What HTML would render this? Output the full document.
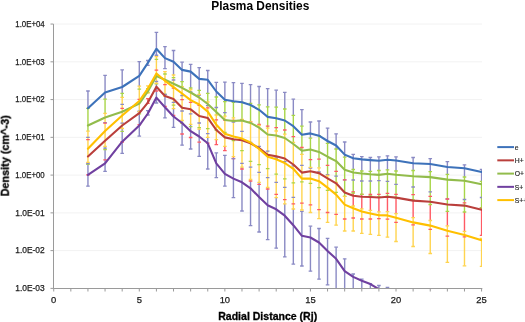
<!DOCTYPE html>
<html><head><meta charset="utf-8"><style>html,body{margin:0;padding:0;background:#fff;}svg{display:block;} text{will-change:transform;}</style></head>
<body><svg width="525" height="322" viewBox="0 0 525 322">
<defs><clipPath id="pc"><rect x="53.3" y="23" width="428.7" height="265.4"/></clipPath></defs>
<rect width="525" height="322" fill="#fff"/>
<line x1="54" y1="250.62" x2="482" y2="250.62" stroke="#F2F2F2" stroke-width="1"/>
<line x1="54" y1="212.86" x2="482" y2="212.86" stroke="#F2F2F2" stroke-width="1"/>
<line x1="54" y1="175.10" x2="482" y2="175.10" stroke="#F2F2F2" stroke-width="1"/>
<line x1="54" y1="137.34" x2="482" y2="137.34" stroke="#F2F2F2" stroke-width="1"/>
<line x1="54" y1="99.58" x2="482" y2="99.58" stroke="#F2F2F2" stroke-width="1"/>
<line x1="54" y1="61.82" x2="482" y2="61.82" stroke="#F2F2F2" stroke-width="1"/>
<line x1="54" y1="24.06" x2="482" y2="24.06" stroke="#F2F2F2" stroke-width="1"/>
<g clip-path="url(#pc)">
<line x1="87.95" y1="91.00" x2="87.95" y2="108.30" stroke="#8A8AC4" stroke-width="1.4"/>
<line x1="87.95" y1="108.30" x2="87.95" y2="131.20" stroke="#A8D548" stroke-width="1.4"/>
<line x1="87.95" y1="131.20" x2="87.95" y2="162.40" stroke="#FFD44F" stroke-width="1.4"/>
<line x1="87.95" y1="162.40" x2="87.95" y2="163.50" stroke="#A8D548" stroke-width="1.4"/>
<line x1="87.95" y1="163.50" x2="87.95" y2="186.20" stroke="#8A8AC4" stroke-width="1.4"/>
<line x1="105.06" y1="75.40" x2="105.06" y2="99.20" stroke="#8A8AC4" stroke-width="1.4"/>
<line x1="105.06" y1="99.20" x2="105.06" y2="113.30" stroke="#A8D548" stroke-width="1.4"/>
<line x1="105.06" y1="113.30" x2="105.06" y2="146.40" stroke="#FFD44F" stroke-width="1.4"/>
<line x1="105.06" y1="146.40" x2="105.06" y2="148.10" stroke="#A8D548" stroke-width="1.4"/>
<line x1="105.06" y1="148.10" x2="105.06" y2="171.30" stroke="#8A8AC4" stroke-width="1.4"/>
<line x1="122.18" y1="69.90" x2="122.18" y2="93.30" stroke="#8A8AC4" stroke-width="1.4"/>
<line x1="122.18" y1="93.30" x2="122.18" y2="97.30" stroke="#A8D548" stroke-width="1.4"/>
<line x1="122.18" y1="97.30" x2="122.18" y2="128.50" stroke="#FFD44F" stroke-width="1.4"/>
<line x1="122.18" y1="128.50" x2="122.18" y2="153.40" stroke="#8A8AC4" stroke-width="1.4"/>
<line x1="139.29" y1="61.60" x2="139.29" y2="86.20" stroke="#8A8AC4" stroke-width="1.4"/>
<line x1="139.29" y1="86.20" x2="139.29" y2="111.60" stroke="#FFD44F" stroke-width="1.4"/>
<line x1="139.29" y1="111.60" x2="139.29" y2="111.70" stroke="#A8D548" stroke-width="1.4"/>
<line x1="139.29" y1="111.70" x2="139.29" y2="136.10" stroke="#8A8AC4" stroke-width="1.4"/>
<line x1="147.85" y1="60.50" x2="147.85" y2="65.30" stroke="#8A8AC4" stroke-width="1.4"/>
<line x1="147.85" y1="85.90" x2="147.85" y2="93.00" stroke="#FFD44F" stroke-width="1.4"/>
<line x1="147.85" y1="98.60" x2="147.85" y2="103.30" stroke="#FF5A64" stroke-width="1.4"/>
<line x1="147.85" y1="110.70" x2="147.85" y2="115.00" stroke="#8A8AC4" stroke-width="1.4"/>
<line x1="156.41" y1="32.40" x2="156.41" y2="55.25" stroke="#8A8AC4" stroke-width="1.4"/>
<line x1="156.41" y1="56.60" x2="156.41" y2="83.47" stroke="#FFD44F" stroke-width="1.4"/>
<line x1="156.41" y1="83.47" x2="156.41" y2="103.00" stroke="#8A8AC4" stroke-width="1.4"/>
<line x1="164.97" y1="46.70" x2="164.97" y2="68.60" stroke="#8A8AC4" stroke-width="1.4"/>
<line x1="164.97" y1="71.60" x2="164.97" y2="96.45" stroke="#FFD44F" stroke-width="1.4"/>
<line x1="164.97" y1="96.45" x2="164.97" y2="117.90" stroke="#8A8AC4" stroke-width="1.4"/>
<line x1="173.52" y1="50.50" x2="173.52" y2="75.00" stroke="#8A8AC4" stroke-width="1.4"/>
<line x1="173.52" y1="75.00" x2="173.52" y2="108.53" stroke="#FFD44F" stroke-width="1.4"/>
<line x1="173.52" y1="108.53" x2="173.52" y2="127.30" stroke="#8A8AC4" stroke-width="1.4"/>
<line x1="182.08" y1="62.20" x2="182.08" y2="81.70" stroke="#8A8AC4" stroke-width="1.4"/>
<line x1="182.08" y1="81.70" x2="182.08" y2="86.60" stroke="#A8D548" stroke-width="1.4"/>
<line x1="182.08" y1="86.60" x2="182.08" y2="120.50" stroke="#FFD44F" stroke-width="1.4"/>
<line x1="182.08" y1="120.50" x2="182.08" y2="145.20" stroke="#8A8AC4" stroke-width="1.4"/>
<line x1="190.64" y1="64.40" x2="190.64" y2="88.00" stroke="#8A8AC4" stroke-width="1.4"/>
<line x1="190.64" y1="88.00" x2="190.64" y2="89.50" stroke="#A8D548" stroke-width="1.4"/>
<line x1="190.64" y1="89.50" x2="190.64" y2="124.30" stroke="#FFD44F" stroke-width="1.4"/>
<line x1="190.64" y1="124.30" x2="190.64" y2="149.00" stroke="#8A8AC4" stroke-width="1.4"/>
<line x1="199.20" y1="67.60" x2="199.20" y2="90.40" stroke="#8A8AC4" stroke-width="1.4"/>
<line x1="199.20" y1="90.40" x2="199.20" y2="94.30" stroke="#A8D548" stroke-width="1.4"/>
<line x1="199.20" y1="94.30" x2="199.20" y2="129.20" stroke="#FFD44F" stroke-width="1.4"/>
<line x1="199.20" y1="129.20" x2="199.20" y2="156.30" stroke="#8A8AC4" stroke-width="1.4"/>
<line x1="207.75" y1="70.50" x2="207.75" y2="93.40" stroke="#8A8AC4" stroke-width="1.4"/>
<line x1="207.75" y1="93.40" x2="207.75" y2="102.00" stroke="#A8D548" stroke-width="1.4"/>
<line x1="207.75" y1="102.00" x2="207.75" y2="137.30" stroke="#FFD44F" stroke-width="1.4"/>
<line x1="207.75" y1="137.30" x2="207.75" y2="169.00" stroke="#8A8AC4" stroke-width="1.4"/>
<line x1="216.31" y1="82.40" x2="216.31" y2="97.00" stroke="#8A8AC4" stroke-width="1.4"/>
<line x1="216.31" y1="97.00" x2="216.31" y2="115.00" stroke="#A8D548" stroke-width="1.4"/>
<line x1="216.31" y1="115.00" x2="216.31" y2="139.70" stroke="#FFD44F" stroke-width="1.4"/>
<line x1="216.31" y1="139.70" x2="216.31" y2="144.60" stroke="#FF5A64" stroke-width="1.4"/>
<line x1="216.31" y1="152.90" x2="216.31" y2="177.60" stroke="#8A8AC4" stroke-width="1.4"/>
<line x1="224.87" y1="82.10" x2="224.87" y2="101.70" stroke="#8A8AC4" stroke-width="1.4"/>
<line x1="224.87" y1="101.70" x2="224.87" y2="116.10" stroke="#A8D548" stroke-width="1.4"/>
<line x1="224.87" y1="116.10" x2="224.87" y2="146.30" stroke="#FFD44F" stroke-width="1.4"/>
<line x1="224.87" y1="146.30" x2="224.87" y2="150.60" stroke="#FF5A64" stroke-width="1.4"/>
<line x1="224.87" y1="155.30" x2="224.87" y2="186.10" stroke="#8A8AC4" stroke-width="1.4"/>
<line x1="233.43" y1="82.70" x2="233.43" y2="102.40" stroke="#8A8AC4" stroke-width="1.4"/>
<line x1="233.43" y1="102.40" x2="233.43" y2="117.80" stroke="#A8D548" stroke-width="1.4"/>
<line x1="233.43" y1="117.80" x2="233.43" y2="156.70" stroke="#FFD44F" stroke-width="1.4"/>
<line x1="233.43" y1="156.70" x2="233.43" y2="158.60" stroke="#FF5A64" stroke-width="1.4"/>
<line x1="233.43" y1="158.60" x2="233.43" y2="197.70" stroke="#8A8AC4" stroke-width="1.4"/>
<line x1="241.98" y1="83.30" x2="241.98" y2="102.40" stroke="#8A8AC4" stroke-width="1.4"/>
<line x1="241.98" y1="102.40" x2="241.98" y2="119.50" stroke="#A8D548" stroke-width="1.4"/>
<line x1="241.98" y1="119.50" x2="241.98" y2="167.10" stroke="#FFD44F" stroke-width="1.4"/>
<line x1="241.98" y1="167.10" x2="241.98" y2="211.00" stroke="#8A8AC4" stroke-width="1.4"/>
<line x1="250.54" y1="84.60" x2="250.54" y2="103.40" stroke="#8A8AC4" stroke-width="1.4"/>
<line x1="250.54" y1="103.40" x2="250.54" y2="121.80" stroke="#A8D548" stroke-width="1.4"/>
<line x1="250.54" y1="121.80" x2="250.54" y2="179.50" stroke="#FFD44F" stroke-width="1.4"/>
<line x1="250.54" y1="179.50" x2="250.54" y2="225.70" stroke="#8A8AC4" stroke-width="1.4"/>
<line x1="259.10" y1="86.50" x2="259.10" y2="104.80" stroke="#8A8AC4" stroke-width="1.4"/>
<line x1="259.10" y1="104.80" x2="259.10" y2="125.50" stroke="#A8D548" stroke-width="1.4"/>
<line x1="259.10" y1="125.50" x2="259.10" y2="182.40" stroke="#FFD44F" stroke-width="1.4"/>
<line x1="259.10" y1="182.40" x2="259.10" y2="232.00" stroke="#8A8AC4" stroke-width="1.4"/>
<line x1="267.66" y1="88.60" x2="267.66" y2="106.80" stroke="#8A8AC4" stroke-width="1.4"/>
<line x1="267.66" y1="106.80" x2="267.66" y2="128.10" stroke="#A8D548" stroke-width="1.4"/>
<line x1="267.66" y1="128.10" x2="267.66" y2="187.50" stroke="#FFD44F" stroke-width="1.4"/>
<line x1="267.66" y1="187.50" x2="267.66" y2="239.60" stroke="#8A8AC4" stroke-width="1.4"/>
<line x1="276.21" y1="90.20" x2="276.21" y2="107.10" stroke="#8A8AC4" stroke-width="1.4"/>
<line x1="276.21" y1="107.10" x2="276.21" y2="131.00" stroke="#A8D548" stroke-width="1.4"/>
<line x1="276.21" y1="131.00" x2="276.21" y2="197.70" stroke="#FFD44F" stroke-width="1.4"/>
<line x1="276.21" y1="197.70" x2="276.21" y2="248.20" stroke="#8A8AC4" stroke-width="1.4"/>
<line x1="284.77" y1="92.30" x2="284.77" y2="109.00" stroke="#8A8AC4" stroke-width="1.4"/>
<line x1="284.77" y1="109.00" x2="284.77" y2="134.20" stroke="#A8D548" stroke-width="1.4"/>
<line x1="284.77" y1="134.20" x2="284.77" y2="203.80" stroke="#FFD44F" stroke-width="1.4"/>
<line x1="284.77" y1="203.80" x2="284.77" y2="256.90" stroke="#8A8AC4" stroke-width="1.4"/>
<line x1="293.33" y1="99.20" x2="293.33" y2="115.30" stroke="#8A8AC4" stroke-width="1.4"/>
<line x1="293.33" y1="115.30" x2="293.33" y2="142.40" stroke="#A8D548" stroke-width="1.4"/>
<line x1="293.33" y1="142.40" x2="293.33" y2="209.00" stroke="#FFD44F" stroke-width="1.4"/>
<line x1="293.33" y1="209.00" x2="293.33" y2="264.10" stroke="#8A8AC4" stroke-width="1.4"/>
<line x1="301.89" y1="109.60" x2="301.89" y2="126.20" stroke="#8A8AC4" stroke-width="1.4"/>
<line x1="301.89" y1="126.20" x2="301.89" y2="154.30" stroke="#A8D548" stroke-width="1.4"/>
<line x1="301.89" y1="154.30" x2="301.89" y2="210.00" stroke="#FFD44F" stroke-width="1.4"/>
<line x1="301.89" y1="211.30" x2="301.89" y2="266.00" stroke="#8A8AC4" stroke-width="1.4"/>
<line x1="310.44" y1="122.00" x2="310.44" y2="138.20" stroke="#8A8AC4" stroke-width="1.4"/>
<line x1="310.44" y1="138.20" x2="310.44" y2="167.30" stroke="#A8D548" stroke-width="1.4"/>
<line x1="310.44" y1="167.30" x2="310.44" y2="212.50" stroke="#FFD44F" stroke-width="1.4"/>
<line x1="310.44" y1="226.20" x2="310.44" y2="271.20" stroke="#8A8AC4" stroke-width="1.4"/>
<line x1="319.00" y1="121.00" x2="319.00" y2="135.70" stroke="#8A8AC4" stroke-width="1.4"/>
<line x1="319.00" y1="135.70" x2="319.00" y2="167.80" stroke="#A8D548" stroke-width="1.4"/>
<line x1="319.00" y1="167.80" x2="319.00" y2="218.60" stroke="#FFD44F" stroke-width="1.4"/>
<line x1="319.00" y1="228.50" x2="319.00" y2="279.20" stroke="#8A8AC4" stroke-width="1.4"/>
<line x1="327.56" y1="128.10" x2="327.56" y2="143.30" stroke="#8A8AC4" stroke-width="1.4"/>
<line x1="327.56" y1="143.30" x2="327.56" y2="175.50" stroke="#A8D548" stroke-width="1.4"/>
<line x1="327.56" y1="175.50" x2="327.56" y2="222.40" stroke="#FFD44F" stroke-width="1.4"/>
<line x1="327.56" y1="238.30" x2="327.56" y2="284.90" stroke="#8A8AC4" stroke-width="1.4"/>
<line x1="336.12" y1="133.80" x2="336.12" y2="149.00" stroke="#8A8AC4" stroke-width="1.4"/>
<line x1="336.12" y1="149.00" x2="336.12" y2="182.30" stroke="#A8D548" stroke-width="1.4"/>
<line x1="336.12" y1="182.30" x2="336.12" y2="225.20" stroke="#FFD44F" stroke-width="1.4"/>
<line x1="336.12" y1="247.20" x2="336.12" y2="300.00" stroke="#8A8AC4" stroke-width="1.4"/>
<line x1="344.67" y1="142.00" x2="344.67" y2="157.20" stroke="#8A8AC4" stroke-width="1.4"/>
<line x1="344.67" y1="157.20" x2="344.67" y2="196.30" stroke="#A8D548" stroke-width="1.4"/>
<line x1="344.67" y1="196.30" x2="344.67" y2="231.00" stroke="#FFD44F" stroke-width="1.4"/>
<line x1="344.67" y1="258.80" x2="344.67" y2="300.00" stroke="#8A8AC4" stroke-width="1.4"/>
<line x1="353.23" y1="154.30" x2="353.23" y2="169.50" stroke="#8A8AC4" stroke-width="1.4"/>
<line x1="353.23" y1="169.50" x2="353.23" y2="193.00" stroke="#A8D548" stroke-width="1.4"/>
<line x1="353.23" y1="193.00" x2="353.23" y2="206.00" stroke="#FF5A64" stroke-width="1.4"/>
<line x1="353.23" y1="206.00" x2="353.23" y2="231.00" stroke="#FFD44F" stroke-width="1.4"/>
<line x1="353.23" y1="274.00" x2="353.23" y2="300.00" stroke="#8A8AC4" stroke-width="1.4"/>
<line x1="361.79" y1="156.70" x2="361.79" y2="171.00" stroke="#8A8AC4" stroke-width="1.4"/>
<line x1="361.79" y1="171.00" x2="361.79" y2="194.40" stroke="#A8D548" stroke-width="1.4"/>
<line x1="361.79" y1="194.40" x2="361.79" y2="208.89" stroke="#FF5A64" stroke-width="1.4"/>
<line x1="361.79" y1="208.89" x2="361.79" y2="233.40" stroke="#FFD44F" stroke-width="1.4"/>
<line x1="361.79" y1="279.20" x2="361.79" y2="300.00" stroke="#8A8AC4" stroke-width="1.4"/>
<line x1="370.35" y1="157.50" x2="370.35" y2="171.40" stroke="#8A8AC4" stroke-width="1.4"/>
<line x1="370.35" y1="171.40" x2="370.35" y2="195.78" stroke="#A8D548" stroke-width="1.4"/>
<line x1="370.35" y1="195.78" x2="370.35" y2="210.47" stroke="#FF5A64" stroke-width="1.4"/>
<line x1="370.35" y1="210.47" x2="370.35" y2="234.40" stroke="#FFD44F" stroke-width="1.4"/>
<line x1="370.35" y1="283.60" x2="370.35" y2="300.00" stroke="#8A8AC4" stroke-width="1.4"/>
<line x1="378.90" y1="156.80" x2="378.90" y2="170.50" stroke="#8A8AC4" stroke-width="1.4"/>
<line x1="378.90" y1="170.50" x2="378.90" y2="196.96" stroke="#A8D548" stroke-width="1.4"/>
<line x1="378.90" y1="196.96" x2="378.90" y2="211.86" stroke="#FF5A64" stroke-width="1.4"/>
<line x1="378.90" y1="211.86" x2="378.90" y2="235.30" stroke="#FFD44F" stroke-width="1.4"/>
<line x1="378.90" y1="285.50" x2="378.90" y2="300.00" stroke="#8A8AC4" stroke-width="1.4"/>
<line x1="387.46" y1="155.80" x2="387.46" y2="169.90" stroke="#8A8AC4" stroke-width="1.4"/>
<line x1="387.46" y1="169.90" x2="387.46" y2="196.34" stroke="#A8D548" stroke-width="1.4"/>
<line x1="387.46" y1="196.34" x2="387.46" y2="211.54" stroke="#FF5A64" stroke-width="1.4"/>
<line x1="387.46" y1="211.54" x2="387.46" y2="237.20" stroke="#FFD44F" stroke-width="1.4"/>
<line x1="387.46" y1="287.40" x2="387.46" y2="300.00" stroke="#8A8AC4" stroke-width="1.4"/>
<line x1="396.02" y1="156.80" x2="396.02" y2="171.00" stroke="#8A8AC4" stroke-width="1.4"/>
<line x1="396.02" y1="171.00" x2="396.02" y2="197.92" stroke="#A8D548" stroke-width="1.4"/>
<line x1="396.02" y1="197.92" x2="396.02" y2="213.53" stroke="#FF5A64" stroke-width="1.4"/>
<line x1="396.02" y1="213.53" x2="396.02" y2="241.50" stroke="#FFD44F" stroke-width="1.4"/>
<line x1="396.02" y1="293.40" x2="396.02" y2="306.00" stroke="#8A8AC4" stroke-width="1.4"/>
<line x1="413.13" y1="157.50" x2="413.13" y2="170.50" stroke="#8A8AC4" stroke-width="1.4"/>
<line x1="413.13" y1="170.50" x2="413.13" y2="200.00" stroke="#A8D548" stroke-width="1.4"/>
<line x1="413.13" y1="200.00" x2="413.13" y2="217.71" stroke="#FF5A64" stroke-width="1.4"/>
<line x1="413.13" y1="217.71" x2="413.13" y2="246.50" stroke="#FFD44F" stroke-width="1.4"/>
<line x1="413.13" y1="307.40" x2="413.13" y2="320.00" stroke="#8A8AC4" stroke-width="1.4"/>
<line x1="430.25" y1="158.60" x2="430.25" y2="171.70" stroke="#8A8AC4" stroke-width="1.4"/>
<line x1="430.25" y1="171.70" x2="430.25" y2="204.50" stroke="#A8D548" stroke-width="1.4"/>
<line x1="430.25" y1="204.50" x2="430.25" y2="220.50" stroke="#FF5A64" stroke-width="1.4"/>
<line x1="430.25" y1="220.50" x2="430.25" y2="253.50" stroke="#FFD44F" stroke-width="1.4"/>
<line x1="430.25" y1="317.40" x2="430.25" y2="330.00" stroke="#8A8AC4" stroke-width="1.4"/>
<line x1="447.37" y1="161.60" x2="447.37" y2="174.40" stroke="#8A8AC4" stroke-width="1.4"/>
<line x1="447.37" y1="174.40" x2="447.37" y2="211.40" stroke="#A8D548" stroke-width="1.4"/>
<line x1="447.37" y1="211.40" x2="447.37" y2="225.80" stroke="#FF5A64" stroke-width="1.4"/>
<line x1="447.37" y1="225.80" x2="447.37" y2="262.30" stroke="#FFD44F" stroke-width="1.4"/>
<line x1="447.37" y1="327.40" x2="447.37" y2="340.00" stroke="#8A8AC4" stroke-width="1.4"/>
<line x1="464.48" y1="164.80" x2="464.48" y2="177.00" stroke="#8A8AC4" stroke-width="1.4"/>
<line x1="464.48" y1="177.00" x2="464.48" y2="212.00" stroke="#A8D548" stroke-width="1.4"/>
<line x1="464.48" y1="212.00" x2="464.48" y2="231.40" stroke="#FF5A64" stroke-width="1.4"/>
<line x1="464.48" y1="231.40" x2="464.48" y2="265.80" stroke="#FFD44F" stroke-width="1.4"/>
<line x1="464.48" y1="337.40" x2="464.48" y2="350.00" stroke="#8A8AC4" stroke-width="1.4"/>
<line x1="481.59" y1="169.40" x2="481.59" y2="181.40" stroke="#8A8AC4" stroke-width="1.4"/>
<line x1="481.59" y1="181.40" x2="481.59" y2="208.00" stroke="#A8D548" stroke-width="1.4"/>
<line x1="481.59" y1="208.00" x2="481.59" y2="235.40" stroke="#FF5A64" stroke-width="1.4"/>
<line x1="481.59" y1="238.40" x2="481.59" y2="266.40" stroke="#FFD44F" stroke-width="1.4"/>
<line x1="481.59" y1="347.40" x2="481.59" y2="360.00" stroke="#8A8AC4" stroke-width="1.4"/>
<line x1="86.15" y1="91.00" x2="89.75" y2="91.00" stroke="#8A8AC4" stroke-width="1.3"/>
<line x1="86.15" y1="137.30" x2="89.75" y2="137.30" stroke="#8A8AC4" stroke-width="1.3"/>
<line x1="103.27" y1="75.40" x2="106.86" y2="75.40" stroke="#8A8AC4" stroke-width="1.3"/>
<line x1="103.27" y1="122.60" x2="106.86" y2="122.60" stroke="#8A8AC4" stroke-width="1.3"/>
<line x1="120.38" y1="69.90" x2="123.98" y2="69.90" stroke="#8A8AC4" stroke-width="1.3"/>
<line x1="120.38" y1="104.40" x2="123.98" y2="104.40" stroke="#8A8AC4" stroke-width="1.3"/>
<line x1="137.49" y1="61.60" x2="141.09" y2="61.60" stroke="#8A8AC4" stroke-width="1.3"/>
<line x1="137.49" y1="111.10" x2="141.09" y2="111.10" stroke="#8A8AC4" stroke-width="1.3"/>
<line x1="146.05" y1="60.50" x2="149.65" y2="60.50" stroke="#8A8AC4" stroke-width="1.3"/>
<line x1="146.05" y1="65.30" x2="149.65" y2="65.30" stroke="#8A8AC4" stroke-width="1.3"/>
<line x1="154.61" y1="32.40" x2="158.21" y2="32.40" stroke="#8A8AC4" stroke-width="1.3"/>
<line x1="154.61" y1="55.25" x2="158.21" y2="55.25" stroke="#8A8AC4" stroke-width="1.3"/>
<line x1="163.17" y1="46.70" x2="166.77" y2="46.70" stroke="#8A8AC4" stroke-width="1.3"/>
<line x1="163.17" y1="68.60" x2="166.77" y2="68.60" stroke="#8A8AC4" stroke-width="1.3"/>
<line x1="171.72" y1="50.50" x2="175.32" y2="50.50" stroke="#8A8AC4" stroke-width="1.3"/>
<line x1="171.72" y1="80.00" x2="175.32" y2="80.00" stroke="#8A8AC4" stroke-width="1.3"/>
<line x1="180.28" y1="62.20" x2="183.88" y2="62.20" stroke="#8A8AC4" stroke-width="1.3"/>
<line x1="180.28" y1="95.50" x2="183.88" y2="95.50" stroke="#8A8AC4" stroke-width="1.3"/>
<line x1="188.84" y1="64.40" x2="192.44" y2="64.40" stroke="#8A8AC4" stroke-width="1.3"/>
<line x1="188.84" y1="92.00" x2="192.44" y2="92.00" stroke="#8A8AC4" stroke-width="1.3"/>
<line x1="197.40" y1="67.60" x2="201.00" y2="67.60" stroke="#8A8AC4" stroke-width="1.3"/>
<line x1="197.40" y1="95.00" x2="201.00" y2="95.00" stroke="#8A8AC4" stroke-width="1.3"/>
<line x1="205.95" y1="70.50" x2="209.56" y2="70.50" stroke="#8A8AC4" stroke-width="1.3"/>
<line x1="205.95" y1="105.70" x2="209.56" y2="105.70" stroke="#8A8AC4" stroke-width="1.3"/>
<line x1="214.51" y1="82.40" x2="218.11" y2="82.40" stroke="#8A8AC4" stroke-width="1.3"/>
<line x1="214.51" y1="107.50" x2="218.11" y2="107.50" stroke="#8A8AC4" stroke-width="1.3"/>
<line x1="223.07" y1="82.10" x2="226.67" y2="82.10" stroke="#8A8AC4" stroke-width="1.3"/>
<line x1="223.07" y1="112.60" x2="226.67" y2="112.60" stroke="#8A8AC4" stroke-width="1.3"/>
<line x1="231.63" y1="82.70" x2="235.23" y2="82.70" stroke="#8A8AC4" stroke-width="1.3"/>
<line x1="231.63" y1="122.15" x2="235.23" y2="122.15" stroke="#8A8AC4" stroke-width="1.3"/>
<line x1="240.18" y1="83.30" x2="243.78" y2="83.30" stroke="#8A8AC4" stroke-width="1.3"/>
<line x1="240.18" y1="131.30" x2="243.78" y2="131.30" stroke="#8A8AC4" stroke-width="1.3"/>
<line x1="248.74" y1="84.60" x2="252.34" y2="84.60" stroke="#8A8AC4" stroke-width="1.3"/>
<line x1="248.74" y1="142.50" x2="252.34" y2="142.50" stroke="#8A8AC4" stroke-width="1.3"/>
<line x1="257.30" y1="86.50" x2="260.90" y2="86.50" stroke="#8A8AC4" stroke-width="1.3"/>
<line x1="257.30" y1="146.30" x2="260.90" y2="146.30" stroke="#8A8AC4" stroke-width="1.3"/>
<line x1="265.86" y1="88.60" x2="269.46" y2="88.60" stroke="#8A8AC4" stroke-width="1.3"/>
<line x1="265.86" y1="151.10" x2="269.46" y2="151.10" stroke="#8A8AC4" stroke-width="1.3"/>
<line x1="274.41" y1="90.20" x2="278.01" y2="90.20" stroke="#8A8AC4" stroke-width="1.3"/>
<line x1="274.41" y1="158.00" x2="278.01" y2="158.00" stroke="#8A8AC4" stroke-width="1.3"/>
<line x1="282.97" y1="92.30" x2="286.57" y2="92.30" stroke="#8A8AC4" stroke-width="1.3"/>
<line x1="282.97" y1="161.60" x2="286.57" y2="161.60" stroke="#8A8AC4" stroke-width="1.3"/>
<line x1="291.53" y1="99.20" x2="295.13" y2="99.20" stroke="#8A8AC4" stroke-width="1.3"/>
<line x1="291.53" y1="165.90" x2="295.13" y2="165.90" stroke="#8A8AC4" stroke-width="1.3"/>
<line x1="300.09" y1="109.60" x2="303.69" y2="109.60" stroke="#8A8AC4" stroke-width="1.3"/>
<line x1="300.09" y1="165.40" x2="303.69" y2="165.40" stroke="#8A8AC4" stroke-width="1.3"/>
<line x1="308.64" y1="122.00" x2="312.24" y2="122.00" stroke="#8A8AC4" stroke-width="1.3"/>
<line x1="308.64" y1="168.00" x2="312.24" y2="168.00" stroke="#8A8AC4" stroke-width="1.3"/>
<line x1="317.20" y1="121.00" x2="320.80" y2="121.00" stroke="#8A8AC4" stroke-width="1.3"/>
<line x1="317.20" y1="172.00" x2="320.80" y2="172.00" stroke="#8A8AC4" stroke-width="1.3"/>
<line x1="325.76" y1="128.10" x2="329.36" y2="128.10" stroke="#8A8AC4" stroke-width="1.3"/>
<line x1="325.76" y1="174.60" x2="329.36" y2="174.60" stroke="#8A8AC4" stroke-width="1.3"/>
<line x1="334.32" y1="133.80" x2="337.92" y2="133.80" stroke="#8A8AC4" stroke-width="1.3"/>
<line x1="334.32" y1="176.20" x2="337.92" y2="176.20" stroke="#8A8AC4" stroke-width="1.3"/>
<line x1="342.87" y1="142.00" x2="346.47" y2="142.00" stroke="#8A8AC4" stroke-width="1.3"/>
<line x1="342.87" y1="179.90" x2="346.47" y2="179.90" stroke="#8A8AC4" stroke-width="1.3"/>
<line x1="351.43" y1="154.30" x2="355.03" y2="154.30" stroke="#8A8AC4" stroke-width="1.3"/>
<line x1="351.43" y1="180.00" x2="355.03" y2="180.00" stroke="#8A8AC4" stroke-width="1.3"/>
<line x1="359.99" y1="156.70" x2="363.59" y2="156.70" stroke="#8A8AC4" stroke-width="1.3"/>
<line x1="359.99" y1="181.00" x2="363.59" y2="181.00" stroke="#8A8AC4" stroke-width="1.3"/>
<line x1="368.55" y1="157.50" x2="372.15" y2="157.50" stroke="#8A8AC4" stroke-width="1.3"/>
<line x1="368.55" y1="181.00" x2="372.15" y2="181.00" stroke="#8A8AC4" stroke-width="1.3"/>
<line x1="377.10" y1="156.80" x2="380.70" y2="156.80" stroke="#8A8AC4" stroke-width="1.3"/>
<line x1="377.10" y1="180.60" x2="380.70" y2="180.60" stroke="#8A8AC4" stroke-width="1.3"/>
<line x1="385.66" y1="155.80" x2="389.26" y2="155.80" stroke="#8A8AC4" stroke-width="1.3"/>
<line x1="385.66" y1="181.30" x2="389.26" y2="181.30" stroke="#8A8AC4" stroke-width="1.3"/>
<line x1="394.22" y1="156.80" x2="397.82" y2="156.80" stroke="#8A8AC4" stroke-width="1.3"/>
<line x1="394.22" y1="184.40" x2="397.82" y2="184.40" stroke="#8A8AC4" stroke-width="1.3"/>
<line x1="411.33" y1="157.50" x2="414.94" y2="157.50" stroke="#8A8AC4" stroke-width="1.3"/>
<line x1="411.33" y1="187.00" x2="414.94" y2="187.00" stroke="#8A8AC4" stroke-width="1.3"/>
<line x1="428.45" y1="158.60" x2="432.05" y2="158.60" stroke="#8A8AC4" stroke-width="1.3"/>
<line x1="428.45" y1="191.90" x2="432.05" y2="191.90" stroke="#8A8AC4" stroke-width="1.3"/>
<line x1="445.56" y1="161.60" x2="449.17" y2="161.60" stroke="#8A8AC4" stroke-width="1.3"/>
<line x1="445.56" y1="199.00" x2="449.17" y2="199.00" stroke="#8A8AC4" stroke-width="1.3"/>
<line x1="462.68" y1="164.80" x2="466.28" y2="164.80" stroke="#8A8AC4" stroke-width="1.3"/>
<line x1="462.68" y1="199.50" x2="466.28" y2="199.50" stroke="#8A8AC4" stroke-width="1.3"/>
<line x1="479.79" y1="169.40" x2="483.39" y2="169.40" stroke="#8A8AC4" stroke-width="1.3"/>
<line x1="479.79" y1="197.50" x2="483.39" y2="197.50" stroke="#8A8AC4" stroke-width="1.3"/>
<line x1="86.15" y1="139.60" x2="89.75" y2="139.60" stroke="#FF5A64" stroke-width="1.3"/>
<line x1="86.15" y1="174.80" x2="89.75" y2="174.80" stroke="#FF5A64" stroke-width="1.3"/>
<line x1="103.27" y1="123.20" x2="106.86" y2="123.20" stroke="#FF5A64" stroke-width="1.3"/>
<line x1="103.27" y1="159.90" x2="106.86" y2="159.90" stroke="#FF5A64" stroke-width="1.3"/>
<line x1="120.38" y1="108.40" x2="123.98" y2="108.40" stroke="#FF5A64" stroke-width="1.3"/>
<line x1="120.38" y1="142.00" x2="123.98" y2="142.00" stroke="#FF5A64" stroke-width="1.3"/>
<line x1="137.49" y1="99.40" x2="141.09" y2="99.40" stroke="#FF5A64" stroke-width="1.3"/>
<line x1="137.49" y1="124.70" x2="141.09" y2="124.70" stroke="#FF5A64" stroke-width="1.3"/>
<line x1="146.05" y1="98.60" x2="149.65" y2="98.60" stroke="#FF5A64" stroke-width="1.3"/>
<line x1="146.05" y1="103.30" x2="149.65" y2="103.30" stroke="#FF5A64" stroke-width="1.3"/>
<line x1="154.61" y1="70.10" x2="158.21" y2="70.10" stroke="#FF5A64" stroke-width="1.3"/>
<line x1="154.61" y1="91.00" x2="158.21" y2="91.00" stroke="#FF5A64" stroke-width="1.3"/>
<line x1="163.17" y1="84.60" x2="166.77" y2="84.60" stroke="#FF5A64" stroke-width="1.3"/>
<line x1="163.17" y1="106.40" x2="166.77" y2="106.40" stroke="#FF5A64" stroke-width="1.3"/>
<line x1="171.72" y1="88.20" x2="175.32" y2="88.20" stroke="#FF5A64" stroke-width="1.3"/>
<line x1="171.72" y1="115.50" x2="175.32" y2="115.50" stroke="#FF5A64" stroke-width="1.3"/>
<line x1="180.28" y1="99.60" x2="183.88" y2="99.60" stroke="#FF5A64" stroke-width="1.3"/>
<line x1="180.28" y1="134.00" x2="183.88" y2="134.00" stroke="#FF5A64" stroke-width="1.3"/>
<line x1="188.84" y1="102.30" x2="192.44" y2="102.30" stroke="#FF5A64" stroke-width="1.3"/>
<line x1="188.84" y1="137.50" x2="192.44" y2="137.50" stroke="#FF5A64" stroke-width="1.3"/>
<line x1="197.40" y1="105.40" x2="201.00" y2="105.40" stroke="#FF5A64" stroke-width="1.3"/>
<line x1="197.40" y1="142.20" x2="201.00" y2="142.20" stroke="#FF5A64" stroke-width="1.3"/>
<line x1="205.95" y1="107.80" x2="209.56" y2="107.80" stroke="#FF5A64" stroke-width="1.3"/>
<line x1="205.95" y1="143.10" x2="209.56" y2="143.10" stroke="#FF5A64" stroke-width="1.3"/>
<line x1="214.51" y1="119.80" x2="218.11" y2="119.80" stroke="#FF5A64" stroke-width="1.3"/>
<line x1="214.51" y1="144.60" x2="218.11" y2="144.60" stroke="#FF5A64" stroke-width="1.3"/>
<line x1="223.07" y1="120.00" x2="226.67" y2="120.00" stroke="#FF5A64" stroke-width="1.3"/>
<line x1="223.07" y1="150.60" x2="226.67" y2="150.60" stroke="#FF5A64" stroke-width="1.3"/>
<line x1="231.63" y1="120.50" x2="235.23" y2="120.50" stroke="#FF5A64" stroke-width="1.3"/>
<line x1="231.63" y1="158.60" x2="235.23" y2="158.60" stroke="#FF5A64" stroke-width="1.3"/>
<line x1="240.18" y1="120.00" x2="243.78" y2="120.00" stroke="#FF5A64" stroke-width="1.3"/>
<line x1="240.18" y1="169.00" x2="243.78" y2="169.00" stroke="#FF5A64" stroke-width="1.3"/>
<line x1="248.74" y1="121.80" x2="252.34" y2="121.80" stroke="#FF5A64" stroke-width="1.3"/>
<line x1="248.74" y1="181.00" x2="252.34" y2="181.00" stroke="#FF5A64" stroke-width="1.3"/>
<line x1="257.30" y1="124.40" x2="260.90" y2="124.40" stroke="#FF5A64" stroke-width="1.3"/>
<line x1="257.30" y1="184.30" x2="260.90" y2="184.30" stroke="#FF5A64" stroke-width="1.3"/>
<line x1="265.86" y1="126.20" x2="269.46" y2="126.20" stroke="#FF5A64" stroke-width="1.3"/>
<line x1="265.86" y1="189.00" x2="269.46" y2="189.00" stroke="#FF5A64" stroke-width="1.3"/>
<line x1="274.41" y1="127.70" x2="278.01" y2="127.70" stroke="#FF5A64" stroke-width="1.3"/>
<line x1="274.41" y1="194.40" x2="278.01" y2="194.40" stroke="#FF5A64" stroke-width="1.3"/>
<line x1="282.97" y1="130.00" x2="286.57" y2="130.00" stroke="#FF5A64" stroke-width="1.3"/>
<line x1="282.97" y1="199.70" x2="286.57" y2="199.70" stroke="#FF5A64" stroke-width="1.3"/>
<line x1="291.53" y1="136.70" x2="295.13" y2="136.70" stroke="#FF5A64" stroke-width="1.3"/>
<line x1="291.53" y1="203.80" x2="295.13" y2="203.80" stroke="#FF5A64" stroke-width="1.3"/>
<line x1="300.09" y1="147.50" x2="303.69" y2="147.50" stroke="#FF5A64" stroke-width="1.3"/>
<line x1="300.09" y1="203.20" x2="303.69" y2="203.20" stroke="#FF5A64" stroke-width="1.3"/>
<line x1="308.64" y1="159.60" x2="312.24" y2="159.60" stroke="#FF5A64" stroke-width="1.3"/>
<line x1="308.64" y1="204.80" x2="312.24" y2="204.80" stroke="#FF5A64" stroke-width="1.3"/>
<line x1="317.20" y1="159.20" x2="320.80" y2="159.20" stroke="#FF5A64" stroke-width="1.3"/>
<line x1="317.20" y1="209.60" x2="320.80" y2="209.60" stroke="#FF5A64" stroke-width="1.3"/>
<line x1="325.76" y1="165.40" x2="329.36" y2="165.40" stroke="#FF5A64" stroke-width="1.3"/>
<line x1="325.76" y1="212.50" x2="329.36" y2="212.50" stroke="#FF5A64" stroke-width="1.3"/>
<line x1="334.32" y1="171.40" x2="337.92" y2="171.40" stroke="#FF5A64" stroke-width="1.3"/>
<line x1="334.32" y1="214.40" x2="337.92" y2="214.40" stroke="#FF5A64" stroke-width="1.3"/>
<line x1="342.87" y1="179.90" x2="346.47" y2="179.90" stroke="#FF5A64" stroke-width="1.3"/>
<line x1="342.87" y1="219.00" x2="346.47" y2="219.00" stroke="#FF5A64" stroke-width="1.3"/>
<line x1="351.43" y1="191.80" x2="355.03" y2="191.80" stroke="#FF5A64" stroke-width="1.3"/>
<line x1="351.43" y1="218.00" x2="355.03" y2="218.00" stroke="#FF5A64" stroke-width="1.3"/>
<line x1="359.99" y1="194.30" x2="363.59" y2="194.30" stroke="#FF5A64" stroke-width="1.3"/>
<line x1="359.99" y1="219.00" x2="363.59" y2="219.00" stroke="#FF5A64" stroke-width="1.3"/>
<line x1="368.55" y1="194.50" x2="372.15" y2="194.50" stroke="#FF5A64" stroke-width="1.3"/>
<line x1="368.55" y1="219.00" x2="372.15" y2="219.00" stroke="#FF5A64" stroke-width="1.3"/>
<line x1="377.10" y1="194.30" x2="380.70" y2="194.30" stroke="#FF5A64" stroke-width="1.3"/>
<line x1="377.10" y1="218.60" x2="380.70" y2="218.60" stroke="#FF5A64" stroke-width="1.3"/>
<line x1="385.66" y1="193.30" x2="389.26" y2="193.30" stroke="#FF5A64" stroke-width="1.3"/>
<line x1="385.66" y1="219.10" x2="389.26" y2="219.10" stroke="#FF5A64" stroke-width="1.3"/>
<line x1="394.22" y1="194.30" x2="397.82" y2="194.30" stroke="#FF5A64" stroke-width="1.3"/>
<line x1="394.22" y1="222.40" x2="397.82" y2="222.40" stroke="#FF5A64" stroke-width="1.3"/>
<line x1="411.33" y1="194.70" x2="414.94" y2="194.70" stroke="#FF5A64" stroke-width="1.3"/>
<line x1="411.33" y1="224.90" x2="414.94" y2="224.90" stroke="#FF5A64" stroke-width="1.3"/>
<line x1="428.45" y1="196.40" x2="432.05" y2="196.40" stroke="#FF5A64" stroke-width="1.3"/>
<line x1="428.45" y1="229.40" x2="432.05" y2="229.40" stroke="#FF5A64" stroke-width="1.3"/>
<line x1="445.56" y1="199.00" x2="449.17" y2="199.00" stroke="#FF5A64" stroke-width="1.3"/>
<line x1="445.56" y1="236.10" x2="449.17" y2="236.10" stroke="#FF5A64" stroke-width="1.3"/>
<line x1="462.68" y1="202.80" x2="466.28" y2="202.80" stroke="#FF5A64" stroke-width="1.3"/>
<line x1="462.68" y1="236.90" x2="466.28" y2="236.90" stroke="#FF5A64" stroke-width="1.3"/>
<line x1="479.79" y1="207.60" x2="483.39" y2="207.60" stroke="#FF5A64" stroke-width="1.3"/>
<line x1="479.79" y1="235.40" x2="483.39" y2="235.40" stroke="#FF5A64" stroke-width="1.3"/>
<line x1="86.15" y1="108.30" x2="89.75" y2="108.30" stroke="#A8D548" stroke-width="1.3"/>
<line x1="86.15" y1="164.30" x2="89.75" y2="164.30" stroke="#A8D548" stroke-width="1.3"/>
<line x1="103.27" y1="99.20" x2="106.86" y2="99.20" stroke="#A8D548" stroke-width="1.3"/>
<line x1="103.27" y1="149.60" x2="106.86" y2="149.60" stroke="#A8D548" stroke-width="1.3"/>
<line x1="120.38" y1="93.30" x2="123.98" y2="93.30" stroke="#A8D548" stroke-width="1.3"/>
<line x1="120.38" y1="131.40" x2="123.98" y2="131.40" stroke="#A8D548" stroke-width="1.3"/>
<line x1="137.49" y1="89.10" x2="141.09" y2="89.10" stroke="#A8D548" stroke-width="1.3"/>
<line x1="137.49" y1="113.90" x2="141.09" y2="113.90" stroke="#A8D548" stroke-width="1.3"/>
<line x1="146.05" y1="88.60" x2="149.65" y2="88.60" stroke="#A8D548" stroke-width="1.3"/>
<line x1="146.05" y1="92.40" x2="149.65" y2="92.40" stroke="#A8D548" stroke-width="1.3"/>
<line x1="154.61" y1="59.30" x2="158.21" y2="59.30" stroke="#A8D548" stroke-width="1.3"/>
<line x1="154.61" y1="83.83" x2="158.21" y2="83.83" stroke="#A8D548" stroke-width="1.3"/>
<line x1="163.17" y1="74.00" x2="166.77" y2="74.00" stroke="#A8D548" stroke-width="1.3"/>
<line x1="163.17" y1="94.47" x2="166.77" y2="94.47" stroke="#A8D548" stroke-width="1.3"/>
<line x1="171.72" y1="77.60" x2="175.32" y2="77.60" stroke="#A8D548" stroke-width="1.3"/>
<line x1="171.72" y1="105.20" x2="175.32" y2="105.20" stroke="#A8D548" stroke-width="1.3"/>
<line x1="180.28" y1="81.70" x2="183.88" y2="81.70" stroke="#A8D548" stroke-width="1.3"/>
<line x1="180.28" y1="123.40" x2="183.88" y2="123.40" stroke="#A8D548" stroke-width="1.3"/>
<line x1="188.84" y1="88.00" x2="192.44" y2="88.00" stroke="#A8D548" stroke-width="1.3"/>
<line x1="188.84" y1="126.70" x2="192.44" y2="126.70" stroke="#A8D548" stroke-width="1.3"/>
<line x1="197.40" y1="90.40" x2="201.00" y2="90.40" stroke="#A8D548" stroke-width="1.3"/>
<line x1="197.40" y1="127.70" x2="201.00" y2="127.70" stroke="#A8D548" stroke-width="1.3"/>
<line x1="205.95" y1="93.40" x2="209.56" y2="93.40" stroke="#A8D548" stroke-width="1.3"/>
<line x1="205.95" y1="128.70" x2="209.56" y2="128.70" stroke="#A8D548" stroke-width="1.3"/>
<line x1="214.51" y1="97.00" x2="218.11" y2="97.00" stroke="#A8D548" stroke-width="1.3"/>
<line x1="214.51" y1="130.00" x2="218.11" y2="130.00" stroke="#A8D548" stroke-width="1.3"/>
<line x1="223.07" y1="101.70" x2="226.67" y2="101.70" stroke="#A8D548" stroke-width="1.3"/>
<line x1="223.07" y1="132.30" x2="226.67" y2="132.30" stroke="#A8D548" stroke-width="1.3"/>
<line x1="231.63" y1="102.40" x2="235.23" y2="102.40" stroke="#A8D548" stroke-width="1.3"/>
<line x1="231.63" y1="140.50" x2="235.23" y2="140.50" stroke="#A8D548" stroke-width="1.3"/>
<line x1="240.18" y1="102.40" x2="243.78" y2="102.40" stroke="#A8D548" stroke-width="1.3"/>
<line x1="240.18" y1="150.60" x2="243.78" y2="150.60" stroke="#A8D548" stroke-width="1.3"/>
<line x1="248.74" y1="103.40" x2="252.34" y2="103.40" stroke="#A8D548" stroke-width="1.3"/>
<line x1="248.74" y1="161.40" x2="252.34" y2="161.40" stroke="#A8D548" stroke-width="1.3"/>
<line x1="257.30" y1="104.80" x2="260.90" y2="104.80" stroke="#A8D548" stroke-width="1.3"/>
<line x1="257.30" y1="164.70" x2="260.90" y2="164.70" stroke="#A8D548" stroke-width="1.3"/>
<line x1="265.86" y1="106.80" x2="269.46" y2="106.80" stroke="#A8D548" stroke-width="1.3"/>
<line x1="265.86" y1="168.70" x2="269.46" y2="168.70" stroke="#A8D548" stroke-width="1.3"/>
<line x1="274.41" y1="107.10" x2="278.01" y2="107.10" stroke="#A8D548" stroke-width="1.3"/>
<line x1="274.41" y1="174.10" x2="278.01" y2="174.10" stroke="#A8D548" stroke-width="1.3"/>
<line x1="282.97" y1="109.00" x2="286.57" y2="109.00" stroke="#A8D548" stroke-width="1.3"/>
<line x1="282.97" y1="178.90" x2="286.57" y2="178.90" stroke="#A8D548" stroke-width="1.3"/>
<line x1="291.53" y1="115.30" x2="295.13" y2="115.30" stroke="#A8D548" stroke-width="1.3"/>
<line x1="291.53" y1="182.80" x2="295.13" y2="182.80" stroke="#A8D548" stroke-width="1.3"/>
<line x1="300.09" y1="126.20" x2="303.69" y2="126.20" stroke="#A8D548" stroke-width="1.3"/>
<line x1="300.09" y1="181.90" x2="303.69" y2="181.90" stroke="#A8D548" stroke-width="1.3"/>
<line x1="308.64" y1="138.20" x2="312.24" y2="138.20" stroke="#A8D548" stroke-width="1.3"/>
<line x1="308.64" y1="183.30" x2="312.24" y2="183.30" stroke="#A8D548" stroke-width="1.3"/>
<line x1="317.20" y1="135.70" x2="320.80" y2="135.70" stroke="#A8D548" stroke-width="1.3"/>
<line x1="317.20" y1="187.60" x2="320.80" y2="187.60" stroke="#A8D548" stroke-width="1.3"/>
<line x1="325.76" y1="143.30" x2="329.36" y2="143.30" stroke="#A8D548" stroke-width="1.3"/>
<line x1="325.76" y1="190.30" x2="329.36" y2="190.30" stroke="#A8D548" stroke-width="1.3"/>
<line x1="334.32" y1="149.00" x2="337.92" y2="149.00" stroke="#A8D548" stroke-width="1.3"/>
<line x1="334.32" y1="192.30" x2="337.92" y2="192.30" stroke="#A8D548" stroke-width="1.3"/>
<line x1="342.87" y1="157.20" x2="346.47" y2="157.20" stroke="#A8D548" stroke-width="1.3"/>
<line x1="342.87" y1="196.30" x2="346.47" y2="196.30" stroke="#A8D548" stroke-width="1.3"/>
<line x1="351.43" y1="169.50" x2="355.03" y2="169.50" stroke="#A8D548" stroke-width="1.3"/>
<line x1="351.43" y1="193.00" x2="355.03" y2="193.00" stroke="#A8D548" stroke-width="1.3"/>
<line x1="359.99" y1="171.00" x2="363.59" y2="171.00" stroke="#A8D548" stroke-width="1.3"/>
<line x1="359.99" y1="194.40" x2="363.59" y2="194.40" stroke="#A8D548" stroke-width="1.3"/>
<line x1="368.55" y1="171.40" x2="372.15" y2="171.40" stroke="#A8D548" stroke-width="1.3"/>
<line x1="368.55" y1="195.78" x2="372.15" y2="195.78" stroke="#A8D548" stroke-width="1.3"/>
<line x1="377.10" y1="170.50" x2="380.70" y2="170.50" stroke="#A8D548" stroke-width="1.3"/>
<line x1="377.10" y1="196.96" x2="380.70" y2="196.96" stroke="#A8D548" stroke-width="1.3"/>
<line x1="385.66" y1="169.90" x2="389.26" y2="169.90" stroke="#A8D548" stroke-width="1.3"/>
<line x1="385.66" y1="196.34" x2="389.26" y2="196.34" stroke="#A8D548" stroke-width="1.3"/>
<line x1="394.22" y1="171.00" x2="397.82" y2="171.00" stroke="#A8D548" stroke-width="1.3"/>
<line x1="394.22" y1="197.92" x2="397.82" y2="197.92" stroke="#A8D548" stroke-width="1.3"/>
<line x1="411.33" y1="170.50" x2="414.94" y2="170.50" stroke="#A8D548" stroke-width="1.3"/>
<line x1="411.33" y1="200.00" x2="414.94" y2="200.00" stroke="#A8D548" stroke-width="1.3"/>
<line x1="428.45" y1="171.70" x2="432.05" y2="171.70" stroke="#A8D548" stroke-width="1.3"/>
<line x1="428.45" y1="204.50" x2="432.05" y2="204.50" stroke="#A8D548" stroke-width="1.3"/>
<line x1="445.56" y1="174.40" x2="449.17" y2="174.40" stroke="#A8D548" stroke-width="1.3"/>
<line x1="445.56" y1="211.40" x2="449.17" y2="211.40" stroke="#A8D548" stroke-width="1.3"/>
<line x1="462.68" y1="177.00" x2="466.28" y2="177.00" stroke="#A8D548" stroke-width="1.3"/>
<line x1="462.68" y1="212.00" x2="466.28" y2="212.00" stroke="#A8D548" stroke-width="1.3"/>
<line x1="479.79" y1="181.40" x2="483.39" y2="181.40" stroke="#A8D548" stroke-width="1.3"/>
<line x1="479.79" y1="208.00" x2="483.39" y2="208.00" stroke="#A8D548" stroke-width="1.3"/>
<line x1="86.15" y1="163.50" x2="89.75" y2="163.50" stroke="#8A8AC4" stroke-width="1.3"/>
<line x1="86.15" y1="186.20" x2="89.75" y2="186.20" stroke="#8A8AC4" stroke-width="1.3"/>
<line x1="103.27" y1="148.10" x2="106.86" y2="148.10" stroke="#8A8AC4" stroke-width="1.3"/>
<line x1="103.27" y1="171.30" x2="106.86" y2="171.30" stroke="#8A8AC4" stroke-width="1.3"/>
<line x1="120.38" y1="123.20" x2="123.98" y2="123.20" stroke="#8A8AC4" stroke-width="1.3"/>
<line x1="120.38" y1="153.40" x2="123.98" y2="153.40" stroke="#8A8AC4" stroke-width="1.3"/>
<line x1="137.49" y1="111.70" x2="141.09" y2="111.70" stroke="#8A8AC4" stroke-width="1.3"/>
<line x1="137.49" y1="136.10" x2="141.09" y2="136.10" stroke="#8A8AC4" stroke-width="1.3"/>
<line x1="146.05" y1="110.70" x2="149.65" y2="110.70" stroke="#8A8AC4" stroke-width="1.3"/>
<line x1="146.05" y1="115.00" x2="149.65" y2="115.00" stroke="#8A8AC4" stroke-width="1.3"/>
<line x1="154.61" y1="81.50" x2="158.21" y2="81.50" stroke="#8A8AC4" stroke-width="1.3"/>
<line x1="154.61" y1="103.00" x2="158.21" y2="103.00" stroke="#8A8AC4" stroke-width="1.3"/>
<line x1="163.17" y1="94.30" x2="166.77" y2="94.30" stroke="#8A8AC4" stroke-width="1.3"/>
<line x1="163.17" y1="117.90" x2="166.77" y2="117.90" stroke="#8A8AC4" stroke-width="1.3"/>
<line x1="171.72" y1="102.30" x2="175.32" y2="102.30" stroke="#8A8AC4" stroke-width="1.3"/>
<line x1="171.72" y1="127.30" x2="175.32" y2="127.30" stroke="#8A8AC4" stroke-width="1.3"/>
<line x1="180.28" y1="111.00" x2="183.88" y2="111.00" stroke="#8A8AC4" stroke-width="1.3"/>
<line x1="180.28" y1="145.20" x2="183.88" y2="145.20" stroke="#8A8AC4" stroke-width="1.3"/>
<line x1="188.84" y1="113.90" x2="192.44" y2="113.90" stroke="#8A8AC4" stroke-width="1.3"/>
<line x1="188.84" y1="149.00" x2="192.44" y2="149.00" stroke="#8A8AC4" stroke-width="1.3"/>
<line x1="197.40" y1="123.00" x2="201.00" y2="123.00" stroke="#8A8AC4" stroke-width="1.3"/>
<line x1="197.40" y1="156.30" x2="201.00" y2="156.30" stroke="#8A8AC4" stroke-width="1.3"/>
<line x1="205.95" y1="133.60" x2="209.56" y2="133.60" stroke="#8A8AC4" stroke-width="1.3"/>
<line x1="205.95" y1="169.00" x2="209.56" y2="169.00" stroke="#8A8AC4" stroke-width="1.3"/>
<line x1="214.51" y1="152.90" x2="218.11" y2="152.90" stroke="#8A8AC4" stroke-width="1.3"/>
<line x1="214.51" y1="177.60" x2="218.11" y2="177.60" stroke="#8A8AC4" stroke-width="1.3"/>
<line x1="223.07" y1="155.30" x2="226.67" y2="155.30" stroke="#8A8AC4" stroke-width="1.3"/>
<line x1="223.07" y1="186.10" x2="226.67" y2="186.10" stroke="#8A8AC4" stroke-width="1.3"/>
<line x1="231.63" y1="158.60" x2="235.23" y2="158.60" stroke="#8A8AC4" stroke-width="1.3"/>
<line x1="231.63" y1="197.70" x2="235.23" y2="197.70" stroke="#8A8AC4" stroke-width="1.3"/>
<line x1="240.18" y1="163.30" x2="243.78" y2="163.30" stroke="#8A8AC4" stroke-width="1.3"/>
<line x1="240.18" y1="211.00" x2="243.78" y2="211.00" stroke="#8A8AC4" stroke-width="1.3"/>
<line x1="248.74" y1="167.10" x2="252.34" y2="167.10" stroke="#8A8AC4" stroke-width="1.3"/>
<line x1="248.74" y1="225.70" x2="252.34" y2="225.70" stroke="#8A8AC4" stroke-width="1.3"/>
<line x1="257.30" y1="172.30" x2="260.90" y2="172.30" stroke="#8A8AC4" stroke-width="1.3"/>
<line x1="257.30" y1="232.00" x2="260.90" y2="232.00" stroke="#8A8AC4" stroke-width="1.3"/>
<line x1="265.86" y1="177.60" x2="269.46" y2="177.60" stroke="#8A8AC4" stroke-width="1.3"/>
<line x1="265.86" y1="239.60" x2="269.46" y2="239.60" stroke="#8A8AC4" stroke-width="1.3"/>
<line x1="274.41" y1="182.30" x2="278.01" y2="182.30" stroke="#8A8AC4" stroke-width="1.3"/>
<line x1="274.41" y1="248.20" x2="278.01" y2="248.20" stroke="#8A8AC4" stroke-width="1.3"/>
<line x1="282.97" y1="187.40" x2="286.57" y2="187.40" stroke="#8A8AC4" stroke-width="1.3"/>
<line x1="282.97" y1="256.90" x2="286.57" y2="256.90" stroke="#8A8AC4" stroke-width="1.3"/>
<line x1="291.53" y1="197.30" x2="295.13" y2="197.30" stroke="#8A8AC4" stroke-width="1.3"/>
<line x1="291.53" y1="264.10" x2="295.13" y2="264.10" stroke="#8A8AC4" stroke-width="1.3"/>
<line x1="300.09" y1="211.30" x2="303.69" y2="211.30" stroke="#8A8AC4" stroke-width="1.3"/>
<line x1="300.09" y1="266.00" x2="303.69" y2="266.00" stroke="#8A8AC4" stroke-width="1.3"/>
<line x1="308.64" y1="226.20" x2="312.24" y2="226.20" stroke="#8A8AC4" stroke-width="1.3"/>
<line x1="308.64" y1="271.20" x2="312.24" y2="271.20" stroke="#8A8AC4" stroke-width="1.3"/>
<line x1="317.20" y1="228.50" x2="320.80" y2="228.50" stroke="#8A8AC4" stroke-width="1.3"/>
<line x1="317.20" y1="279.20" x2="320.80" y2="279.20" stroke="#8A8AC4" stroke-width="1.3"/>
<line x1="325.76" y1="238.30" x2="329.36" y2="238.30" stroke="#8A8AC4" stroke-width="1.3"/>
<line x1="325.76" y1="284.90" x2="329.36" y2="284.90" stroke="#8A8AC4" stroke-width="1.3"/>
<line x1="334.32" y1="247.20" x2="337.92" y2="247.20" stroke="#8A8AC4" stroke-width="1.3"/>
<line x1="334.32" y1="300.00" x2="337.92" y2="300.00" stroke="#8A8AC4" stroke-width="1.3"/>
<line x1="342.87" y1="258.80" x2="346.47" y2="258.80" stroke="#8A8AC4" stroke-width="1.3"/>
<line x1="342.87" y1="300.00" x2="346.47" y2="300.00" stroke="#8A8AC4" stroke-width="1.3"/>
<line x1="351.43" y1="274.00" x2="355.03" y2="274.00" stroke="#8A8AC4" stroke-width="1.3"/>
<line x1="351.43" y1="300.00" x2="355.03" y2="300.00" stroke="#8A8AC4" stroke-width="1.3"/>
<line x1="359.99" y1="279.20" x2="363.59" y2="279.20" stroke="#8A8AC4" stroke-width="1.3"/>
<line x1="359.99" y1="300.00" x2="363.59" y2="300.00" stroke="#8A8AC4" stroke-width="1.3"/>
<line x1="368.55" y1="283.60" x2="372.15" y2="283.60" stroke="#8A8AC4" stroke-width="1.3"/>
<line x1="368.55" y1="300.00" x2="372.15" y2="300.00" stroke="#8A8AC4" stroke-width="1.3"/>
<line x1="377.10" y1="285.50" x2="380.70" y2="285.50" stroke="#8A8AC4" stroke-width="1.3"/>
<line x1="377.10" y1="300.00" x2="380.70" y2="300.00" stroke="#8A8AC4" stroke-width="1.3"/>
<line x1="385.66" y1="287.40" x2="389.26" y2="287.40" stroke="#8A8AC4" stroke-width="1.3"/>
<line x1="385.66" y1="300.00" x2="389.26" y2="300.00" stroke="#8A8AC4" stroke-width="1.3"/>
<line x1="394.22" y1="293.40" x2="397.82" y2="293.40" stroke="#8A8AC4" stroke-width="1.3"/>
<line x1="394.22" y1="306.00" x2="397.82" y2="306.00" stroke="#8A8AC4" stroke-width="1.3"/>
<line x1="411.33" y1="307.40" x2="414.94" y2="307.40" stroke="#8A8AC4" stroke-width="1.3"/>
<line x1="411.33" y1="320.00" x2="414.94" y2="320.00" stroke="#8A8AC4" stroke-width="1.3"/>
<line x1="428.45" y1="317.40" x2="432.05" y2="317.40" stroke="#8A8AC4" stroke-width="1.3"/>
<line x1="428.45" y1="330.00" x2="432.05" y2="330.00" stroke="#8A8AC4" stroke-width="1.3"/>
<line x1="445.56" y1="327.40" x2="449.17" y2="327.40" stroke="#8A8AC4" stroke-width="1.3"/>
<line x1="445.56" y1="340.00" x2="449.17" y2="340.00" stroke="#8A8AC4" stroke-width="1.3"/>
<line x1="462.68" y1="337.40" x2="466.28" y2="337.40" stroke="#8A8AC4" stroke-width="1.3"/>
<line x1="462.68" y1="350.00" x2="466.28" y2="350.00" stroke="#8A8AC4" stroke-width="1.3"/>
<line x1="479.79" y1="347.40" x2="483.39" y2="347.40" stroke="#8A8AC4" stroke-width="1.3"/>
<line x1="479.79" y1="360.00" x2="483.39" y2="360.00" stroke="#8A8AC4" stroke-width="1.3"/>
<line x1="86.15" y1="131.20" x2="89.75" y2="131.20" stroke="#FFD44F" stroke-width="1.3"/>
<line x1="86.15" y1="162.40" x2="89.75" y2="162.40" stroke="#FFD44F" stroke-width="1.3"/>
<line x1="103.27" y1="113.30" x2="106.86" y2="113.30" stroke="#FFD44F" stroke-width="1.3"/>
<line x1="103.27" y1="146.40" x2="106.86" y2="146.40" stroke="#FFD44F" stroke-width="1.3"/>
<line x1="120.38" y1="97.30" x2="123.98" y2="97.30" stroke="#FFD44F" stroke-width="1.3"/>
<line x1="120.38" y1="128.50" x2="123.98" y2="128.50" stroke="#FFD44F" stroke-width="1.3"/>
<line x1="137.49" y1="86.20" x2="141.09" y2="86.20" stroke="#FFD44F" stroke-width="1.3"/>
<line x1="137.49" y1="111.60" x2="141.09" y2="111.60" stroke="#FFD44F" stroke-width="1.3"/>
<line x1="146.05" y1="85.90" x2="149.65" y2="85.90" stroke="#FFD44F" stroke-width="1.3"/>
<line x1="146.05" y1="93.00" x2="149.65" y2="93.00" stroke="#FFD44F" stroke-width="1.3"/>
<line x1="154.61" y1="56.60" x2="158.21" y2="56.60" stroke="#FFD44F" stroke-width="1.3"/>
<line x1="154.61" y1="83.47" x2="158.21" y2="83.47" stroke="#FFD44F" stroke-width="1.3"/>
<line x1="163.17" y1="71.60" x2="166.77" y2="71.60" stroke="#FFD44F" stroke-width="1.3"/>
<line x1="163.17" y1="96.45" x2="166.77" y2="96.45" stroke="#FFD44F" stroke-width="1.3"/>
<line x1="171.72" y1="75.00" x2="175.32" y2="75.00" stroke="#FFD44F" stroke-width="1.3"/>
<line x1="171.72" y1="108.53" x2="175.32" y2="108.53" stroke="#FFD44F" stroke-width="1.3"/>
<line x1="180.28" y1="86.60" x2="183.88" y2="86.60" stroke="#FFD44F" stroke-width="1.3"/>
<line x1="180.28" y1="120.50" x2="183.88" y2="120.50" stroke="#FFD44F" stroke-width="1.3"/>
<line x1="188.84" y1="89.50" x2="192.44" y2="89.50" stroke="#FFD44F" stroke-width="1.3"/>
<line x1="188.84" y1="124.30" x2="192.44" y2="124.30" stroke="#FFD44F" stroke-width="1.3"/>
<line x1="197.40" y1="94.30" x2="201.00" y2="94.30" stroke="#FFD44F" stroke-width="1.3"/>
<line x1="197.40" y1="129.20" x2="201.00" y2="129.20" stroke="#FFD44F" stroke-width="1.3"/>
<line x1="205.95" y1="102.00" x2="209.56" y2="102.00" stroke="#FFD44F" stroke-width="1.3"/>
<line x1="205.95" y1="137.30" x2="209.56" y2="137.30" stroke="#FFD44F" stroke-width="1.3"/>
<line x1="214.51" y1="115.00" x2="218.11" y2="115.00" stroke="#FFD44F" stroke-width="1.3"/>
<line x1="214.51" y1="139.70" x2="218.11" y2="139.70" stroke="#FFD44F" stroke-width="1.3"/>
<line x1="223.07" y1="116.10" x2="226.67" y2="116.10" stroke="#FFD44F" stroke-width="1.3"/>
<line x1="223.07" y1="146.30" x2="226.67" y2="146.30" stroke="#FFD44F" stroke-width="1.3"/>
<line x1="231.63" y1="117.80" x2="235.23" y2="117.80" stroke="#FFD44F" stroke-width="1.3"/>
<line x1="231.63" y1="156.70" x2="235.23" y2="156.70" stroke="#FFD44F" stroke-width="1.3"/>
<line x1="240.18" y1="119.50" x2="243.78" y2="119.50" stroke="#FFD44F" stroke-width="1.3"/>
<line x1="240.18" y1="167.10" x2="243.78" y2="167.10" stroke="#FFD44F" stroke-width="1.3"/>
<line x1="248.74" y1="121.80" x2="252.34" y2="121.80" stroke="#FFD44F" stroke-width="1.3"/>
<line x1="248.74" y1="179.50" x2="252.34" y2="179.50" stroke="#FFD44F" stroke-width="1.3"/>
<line x1="257.30" y1="125.50" x2="260.90" y2="125.50" stroke="#FFD44F" stroke-width="1.3"/>
<line x1="257.30" y1="182.40" x2="260.90" y2="182.40" stroke="#FFD44F" stroke-width="1.3"/>
<line x1="265.86" y1="128.10" x2="269.46" y2="128.10" stroke="#FFD44F" stroke-width="1.3"/>
<line x1="265.86" y1="187.50" x2="269.46" y2="187.50" stroke="#FFD44F" stroke-width="1.3"/>
<line x1="274.41" y1="131.00" x2="278.01" y2="131.00" stroke="#FFD44F" stroke-width="1.3"/>
<line x1="274.41" y1="197.70" x2="278.01" y2="197.70" stroke="#FFD44F" stroke-width="1.3"/>
<line x1="282.97" y1="134.20" x2="286.57" y2="134.20" stroke="#FFD44F" stroke-width="1.3"/>
<line x1="282.97" y1="203.80" x2="286.57" y2="203.80" stroke="#FFD44F" stroke-width="1.3"/>
<line x1="291.53" y1="142.40" x2="295.13" y2="142.40" stroke="#FFD44F" stroke-width="1.3"/>
<line x1="291.53" y1="209.00" x2="295.13" y2="209.00" stroke="#FFD44F" stroke-width="1.3"/>
<line x1="300.09" y1="154.30" x2="303.69" y2="154.30" stroke="#FFD44F" stroke-width="1.3"/>
<line x1="300.09" y1="210.00" x2="303.69" y2="210.00" stroke="#FFD44F" stroke-width="1.3"/>
<line x1="308.64" y1="167.30" x2="312.24" y2="167.30" stroke="#FFD44F" stroke-width="1.3"/>
<line x1="308.64" y1="212.50" x2="312.24" y2="212.50" stroke="#FFD44F" stroke-width="1.3"/>
<line x1="317.20" y1="167.80" x2="320.80" y2="167.80" stroke="#FFD44F" stroke-width="1.3"/>
<line x1="317.20" y1="218.60" x2="320.80" y2="218.60" stroke="#FFD44F" stroke-width="1.3"/>
<line x1="325.76" y1="175.50" x2="329.36" y2="175.50" stroke="#FFD44F" stroke-width="1.3"/>
<line x1="325.76" y1="222.40" x2="329.36" y2="222.40" stroke="#FFD44F" stroke-width="1.3"/>
<line x1="334.32" y1="182.30" x2="337.92" y2="182.30" stroke="#FFD44F" stroke-width="1.3"/>
<line x1="334.32" y1="225.20" x2="337.92" y2="225.20" stroke="#FFD44F" stroke-width="1.3"/>
<line x1="342.87" y1="196.30" x2="346.47" y2="196.30" stroke="#FFD44F" stroke-width="1.3"/>
<line x1="342.87" y1="231.00" x2="346.47" y2="231.00" stroke="#FFD44F" stroke-width="1.3"/>
<line x1="351.43" y1="206.00" x2="355.03" y2="206.00" stroke="#FFD44F" stroke-width="1.3"/>
<line x1="351.43" y1="231.00" x2="355.03" y2="231.00" stroke="#FFD44F" stroke-width="1.3"/>
<line x1="359.99" y1="208.89" x2="363.59" y2="208.89" stroke="#FFD44F" stroke-width="1.3"/>
<line x1="359.99" y1="233.40" x2="363.59" y2="233.40" stroke="#FFD44F" stroke-width="1.3"/>
<line x1="368.55" y1="210.47" x2="372.15" y2="210.47" stroke="#FFD44F" stroke-width="1.3"/>
<line x1="368.55" y1="234.40" x2="372.15" y2="234.40" stroke="#FFD44F" stroke-width="1.3"/>
<line x1="377.10" y1="211.86" x2="380.70" y2="211.86" stroke="#FFD44F" stroke-width="1.3"/>
<line x1="377.10" y1="235.30" x2="380.70" y2="235.30" stroke="#FFD44F" stroke-width="1.3"/>
<line x1="385.66" y1="211.54" x2="389.26" y2="211.54" stroke="#FFD44F" stroke-width="1.3"/>
<line x1="385.66" y1="237.20" x2="389.26" y2="237.20" stroke="#FFD44F" stroke-width="1.3"/>
<line x1="394.22" y1="213.53" x2="397.82" y2="213.53" stroke="#FFD44F" stroke-width="1.3"/>
<line x1="394.22" y1="241.50" x2="397.82" y2="241.50" stroke="#FFD44F" stroke-width="1.3"/>
<line x1="411.33" y1="217.71" x2="414.94" y2="217.71" stroke="#FFD44F" stroke-width="1.3"/>
<line x1="411.33" y1="246.50" x2="414.94" y2="246.50" stroke="#FFD44F" stroke-width="1.3"/>
<line x1="428.45" y1="220.50" x2="432.05" y2="220.50" stroke="#FFD44F" stroke-width="1.3"/>
<line x1="428.45" y1="253.50" x2="432.05" y2="253.50" stroke="#FFD44F" stroke-width="1.3"/>
<line x1="445.56" y1="225.80" x2="449.17" y2="225.80" stroke="#FFD44F" stroke-width="1.3"/>
<line x1="445.56" y1="262.30" x2="449.17" y2="262.30" stroke="#FFD44F" stroke-width="1.3"/>
<line x1="462.68" y1="231.40" x2="466.28" y2="231.40" stroke="#FFD44F" stroke-width="1.3"/>
<line x1="462.68" y1="265.80" x2="466.28" y2="265.80" stroke="#FFD44F" stroke-width="1.3"/>
<line x1="479.79" y1="238.40" x2="483.39" y2="238.40" stroke="#FFD44F" stroke-width="1.3"/>
<line x1="479.79" y1="266.40" x2="483.39" y2="266.40" stroke="#FFD44F" stroke-width="1.3"/>
<polyline points="87.95,108.30 105.06,92.40 122.18,87.00 139.29,75.80 147.85,62.90 156.41,48.80 164.97,58.10 173.52,61.70 182.08,69.90 190.64,71.60 199.20,78.90 207.75,79.80 216.31,91.50 224.87,99.80 233.43,101.20 241.98,102.20 250.54,105.00 259.10,109.80 267.66,116.90 276.21,118.20 284.77,120.50 293.33,126.20 301.89,134.80 310.44,133.40 319.00,135.70 327.56,141.00 336.12,145.50 344.67,154.60 353.23,158.30 361.79,159.40 370.35,160.10 378.90,160.70 387.46,159.80 396.02,160.50 413.13,163.20 430.25,164.00 447.37,167.00 464.48,168.20 481.59,172.00" fill="none" stroke="#3D72BA" stroke-width="2.1" stroke-linejoin="round" stroke-linecap="round"/>
<polyline points="87.95,156.50 105.06,140.70 122.18,125.50 139.29,113.20 147.85,102.60 156.41,86.70 164.97,96.00 173.52,99.00 182.08,107.80 190.64,109.30 199.20,116.00 207.75,117.90 216.31,130.00 224.87,137.40 233.43,139.30 241.98,140.30 250.54,143.30 259.10,148.10 267.66,154.90 276.21,156.30 284.77,158.50 293.33,164.50 301.89,172.60 310.44,171.20 319.00,173.10 327.56,178.30 336.12,183.30 344.67,192.50 353.23,195.80 361.79,196.80 370.35,197.00 378.90,197.50 387.46,196.70 396.02,197.60 413.13,200.60 430.25,201.80 447.37,204.50 464.48,205.60 481.59,209.80" fill="none" stroke="#BA3F3C" stroke-width="2.1" stroke-linejoin="round" stroke-linecap="round"/>
<polyline points="87.95,125.50 105.06,117.50 122.18,111.80 139.29,103.60 147.85,91.40 156.41,76.00 164.97,79.80 173.52,83.70 182.08,87.80 190.64,92.50 199.20,97.50 207.75,104.00 216.31,111.90 224.87,120.00 233.43,121.00 241.98,120.40 250.54,122.90 259.10,127.60 267.66,134.50 276.21,135.50 284.77,138.00 293.33,144.00 301.89,150.70 310.44,149.50 319.00,151.90 327.56,156.70 336.12,161.10 344.67,169.70 353.23,172.50 361.79,173.50 370.35,174.30 378.90,174.90 387.46,173.70 396.02,174.70 413.13,176.20 430.25,177.10 447.37,179.60 464.48,180.80 481.59,184.20" fill="none" stroke="#92BC4C" stroke-width="2.1" stroke-linejoin="round" stroke-linecap="round"/>
<polyline points="87.95,174.80 105.06,163.30 122.18,141.70 139.29,125.60 147.85,113.50 156.41,97.60 164.97,107.30 173.52,116.50 182.08,123.00 190.64,131.20 199.20,136.50 207.75,143.30 216.31,163.30 224.87,173.80 233.43,178.60 241.98,182.30 250.54,188.30 259.10,197.10 267.66,205.30 276.21,209.30 284.77,215.70 293.33,225.20 301.89,235.80 310.44,237.50 319.00,242.50 327.56,251.00 336.12,258.80 344.67,271.20 353.23,276.90 361.79,280.70 370.35,284.10 378.90,289.20 387.46,300.00 396.02,306.00 413.13,320.00 430.25,330.00 447.37,340.00 464.48,350.00 481.59,360.00" fill="none" stroke="#7040A0" stroke-width="2.1" stroke-linejoin="round" stroke-linecap="round"/>
<polyline points="87.95,148.70 105.06,131.00 122.18,115.50 139.29,101.00 147.85,88.70 156.41,73.50 164.97,80.80 173.52,87.20 182.08,93.50 190.64,100.10 199.20,104.50 207.75,111.60 216.31,124.80 224.87,133.80 233.43,136.60 241.98,138.60 250.54,142.50 259.10,149.00 267.66,156.80 276.21,159.20 284.77,163.00 293.33,168.80 301.89,178.60 310.44,178.60 319.00,181.20 327.56,187.60 336.12,194.60 344.67,204.60 353.23,208.20 361.79,211.50 370.35,213.50 378.90,215.30 387.46,215.40 396.02,217.80 413.13,222.40 430.25,225.60 447.37,230.80 464.48,234.90 481.59,240.20" fill="none" stroke="#FFC000" stroke-width="2.1" stroke-linejoin="round" stroke-linecap="round"/>
</g>
<line x1="53.5" y1="24.10" x2="53.5" y2="288.40" stroke="#9A9A9A" stroke-width="1"/>
<line x1="53.3" y1="288.5" x2="482.3" y2="288.5" stroke="#9A9A9A" stroke-width="1"/>
<line x1="50.5" y1="288.38" x2="53.5" y2="288.38" stroke="#9A9A9A" stroke-width="1"/>
<line x1="50.5" y1="250.62" x2="53.5" y2="250.62" stroke="#9A9A9A" stroke-width="1"/>
<line x1="50.5" y1="212.86" x2="53.5" y2="212.86" stroke="#9A9A9A" stroke-width="1"/>
<line x1="50.5" y1="175.10" x2="53.5" y2="175.10" stroke="#9A9A9A" stroke-width="1"/>
<line x1="50.5" y1="137.34" x2="53.5" y2="137.34" stroke="#9A9A9A" stroke-width="1"/>
<line x1="50.5" y1="99.58" x2="53.5" y2="99.58" stroke="#9A9A9A" stroke-width="1"/>
<line x1="50.5" y1="61.82" x2="53.5" y2="61.82" stroke="#9A9A9A" stroke-width="1"/>
<line x1="50.5" y1="24.06" x2="53.5" y2="24.06" stroke="#9A9A9A" stroke-width="1"/>
<line x1="53.72" y1="288.5" x2="53.72" y2="291.5" stroke="#9A9A9A" stroke-width="1"/>
<line x1="70.83" y1="288.5" x2="70.83" y2="291.5" stroke="#9A9A9A" stroke-width="1"/>
<line x1="87.95" y1="288.5" x2="87.95" y2="291.5" stroke="#9A9A9A" stroke-width="1"/>
<line x1="105.06" y1="288.5" x2="105.06" y2="291.5" stroke="#9A9A9A" stroke-width="1"/>
<line x1="122.18" y1="288.5" x2="122.18" y2="291.5" stroke="#9A9A9A" stroke-width="1"/>
<line x1="139.29" y1="288.5" x2="139.29" y2="291.5" stroke="#9A9A9A" stroke-width="1"/>
<line x1="156.41" y1="288.5" x2="156.41" y2="291.5" stroke="#9A9A9A" stroke-width="1"/>
<line x1="173.52" y1="288.5" x2="173.52" y2="291.5" stroke="#9A9A9A" stroke-width="1"/>
<line x1="190.64" y1="288.5" x2="190.64" y2="291.5" stroke="#9A9A9A" stroke-width="1"/>
<line x1="207.75" y1="288.5" x2="207.75" y2="291.5" stroke="#9A9A9A" stroke-width="1"/>
<line x1="224.87" y1="288.5" x2="224.87" y2="291.5" stroke="#9A9A9A" stroke-width="1"/>
<line x1="241.98" y1="288.5" x2="241.98" y2="291.5" stroke="#9A9A9A" stroke-width="1"/>
<line x1="259.10" y1="288.5" x2="259.10" y2="291.5" stroke="#9A9A9A" stroke-width="1"/>
<line x1="276.21" y1="288.5" x2="276.21" y2="291.5" stroke="#9A9A9A" stroke-width="1"/>
<line x1="293.33" y1="288.5" x2="293.33" y2="291.5" stroke="#9A9A9A" stroke-width="1"/>
<line x1="310.44" y1="288.5" x2="310.44" y2="291.5" stroke="#9A9A9A" stroke-width="1"/>
<line x1="327.56" y1="288.5" x2="327.56" y2="291.5" stroke="#9A9A9A" stroke-width="1"/>
<line x1="344.67" y1="288.5" x2="344.67" y2="291.5" stroke="#9A9A9A" stroke-width="1"/>
<line x1="361.79" y1="288.5" x2="361.79" y2="291.5" stroke="#9A9A9A" stroke-width="1"/>
<line x1="378.90" y1="288.5" x2="378.90" y2="291.5" stroke="#9A9A9A" stroke-width="1"/>
<line x1="396.02" y1="288.5" x2="396.02" y2="291.5" stroke="#9A9A9A" stroke-width="1"/>
<line x1="413.13" y1="288.5" x2="413.13" y2="291.5" stroke="#9A9A9A" stroke-width="1"/>
<line x1="430.25" y1="288.5" x2="430.25" y2="291.5" stroke="#9A9A9A" stroke-width="1"/>
<line x1="447.37" y1="288.5" x2="447.37" y2="291.5" stroke="#9A9A9A" stroke-width="1"/>
<line x1="464.48" y1="288.5" x2="464.48" y2="291.5" stroke="#9A9A9A" stroke-width="1"/>
<line x1="481.59" y1="288.5" x2="481.59" y2="291.5" stroke="#9A9A9A" stroke-width="1"/>
<text x="44.7" y="291.08" font-family="Liberation Sans, sans-serif" font-size="9.2" fill="#1A1A1A" stroke="#1A1A1A" stroke-width="0.25" text-anchor="end" textLength="29.4" lengthAdjust="spacingAndGlyphs">1.0E-03</text>
<text x="44.7" y="253.32" font-family="Liberation Sans, sans-serif" font-size="9.2" fill="#1A1A1A" stroke="#1A1A1A" stroke-width="0.25" text-anchor="end" textLength="29.4" lengthAdjust="spacingAndGlyphs">1.0E-02</text>
<text x="44.7" y="215.56" font-family="Liberation Sans, sans-serif" font-size="9.2" fill="#1A1A1A" stroke="#1A1A1A" stroke-width="0.25" text-anchor="end" textLength="29.4" lengthAdjust="spacingAndGlyphs">1.0E-01</text>
<text x="44.7" y="177.80" font-family="Liberation Sans, sans-serif" font-size="9.2" fill="#1A1A1A" stroke="#1A1A1A" stroke-width="0.25" text-anchor="end" textLength="29.4" lengthAdjust="spacingAndGlyphs">1.0E+00</text>
<text x="44.7" y="140.04" font-family="Liberation Sans, sans-serif" font-size="9.2" fill="#1A1A1A" stroke="#1A1A1A" stroke-width="0.25" text-anchor="end" textLength="29.4" lengthAdjust="spacingAndGlyphs">1.0E+01</text>
<text x="44.7" y="102.28" font-family="Liberation Sans, sans-serif" font-size="9.2" fill="#1A1A1A" stroke="#1A1A1A" stroke-width="0.25" text-anchor="end" textLength="29.4" lengthAdjust="spacingAndGlyphs">1.0E+02</text>
<text x="44.7" y="64.52" font-family="Liberation Sans, sans-serif" font-size="9.2" fill="#1A1A1A" stroke="#1A1A1A" stroke-width="0.25" text-anchor="end" textLength="29.4" lengthAdjust="spacingAndGlyphs">1.0E+03</text>
<text x="44.7" y="26.76" font-family="Liberation Sans, sans-serif" font-size="9.2" fill="#1A1A1A" stroke="#1A1A1A" stroke-width="0.25" text-anchor="end" textLength="29.4" lengthAdjust="spacingAndGlyphs">1.0E+04</text>
<text x="53.72" y="303.3" font-family="Liberation Sans, sans-serif" font-size="9.4" fill="#1A1A1A" stroke="#1A1A1A" stroke-width="0.25" text-anchor="middle">0</text>
<text x="139.29" y="303.3" font-family="Liberation Sans, sans-serif" font-size="9.4" fill="#1A1A1A" stroke="#1A1A1A" stroke-width="0.25" text-anchor="middle">5</text>
<text x="224.87" y="303.3" font-family="Liberation Sans, sans-serif" font-size="9.4" fill="#1A1A1A" stroke="#1A1A1A" stroke-width="0.25" text-anchor="middle">10</text>
<text x="310.44" y="303.3" font-family="Liberation Sans, sans-serif" font-size="9.4" fill="#1A1A1A" stroke="#1A1A1A" stroke-width="0.25" text-anchor="middle">15</text>
<text x="396.02" y="303.3" font-family="Liberation Sans, sans-serif" font-size="9.4" fill="#1A1A1A" stroke="#1A1A1A" stroke-width="0.25" text-anchor="middle">20</text>
<text x="481.59" y="303.3" font-family="Liberation Sans, sans-serif" font-size="9.4" fill="#1A1A1A" stroke="#1A1A1A" stroke-width="0.25" text-anchor="middle">25</text>
<text x="260.3" y="10.3" font-family="Liberation Sans, sans-serif" font-size="12.4" font-weight="bold" fill="#000" text-anchor="middle" textLength="98" lengthAdjust="spacingAndGlyphs">Plasma Densities</text>
<text x="267.7" y="319.6" font-family="Liberation Sans, sans-serif" font-size="10.6" font-weight="bold" fill="#000" stroke="#000" stroke-width="0.3" text-anchor="middle" textLength="99" lengthAdjust="spacingAndGlyphs">Radial Distance (Rj)</text>
<text transform="translate(8.8,155.8) rotate(-90)" font-family="Liberation Sans, sans-serif" font-size="10.6" font-weight="bold" fill="#000" stroke="#000" stroke-width="0.3" text-anchor="middle" textLength="81" lengthAdjust="spacingAndGlyphs">Density (cm^-3)</text>
<line x1="497.3" y1="147.10" x2="514" y2="147.10" stroke="#3D72BA" stroke-width="2"/>
<text x="514.8" y="149.90" font-family="Liberation Sans, sans-serif" font-size="6.8" fill="#1E1E1E" stroke="#1E1E1E" stroke-width="0.15">e</text>
<line x1="497.3" y1="160.35" x2="514" y2="160.35" stroke="#BA3F3C" stroke-width="2"/>
<text x="514.8" y="163.15" font-family="Liberation Sans, sans-serif" font-size="6.8" fill="#1E1E1E" stroke="#1E1E1E" stroke-width="0.15">H+</text>
<line x1="497.3" y1="173.60" x2="514" y2="173.60" stroke="#92BC4C" stroke-width="2"/>
<text x="514.8" y="176.40" font-family="Liberation Sans, sans-serif" font-size="6.8" fill="#1E1E1E" stroke="#1E1E1E" stroke-width="0.15">O+</text>
<line x1="497.3" y1="186.85" x2="514" y2="186.85" stroke="#7040A0" stroke-width="2"/>
<text x="514.8" y="189.65" font-family="Liberation Sans, sans-serif" font-size="6.8" fill="#1E1E1E" stroke="#1E1E1E" stroke-width="0.15">S+</text>
<line x1="497.3" y1="200.10" x2="514" y2="200.10" stroke="#FFC000" stroke-width="2"/>
<text x="514.8" y="202.90" font-family="Liberation Sans, sans-serif" font-size="6.8" fill="#1E1E1E" stroke="#1E1E1E" stroke-width="0.15">S++</text>
</svg></body></html>
